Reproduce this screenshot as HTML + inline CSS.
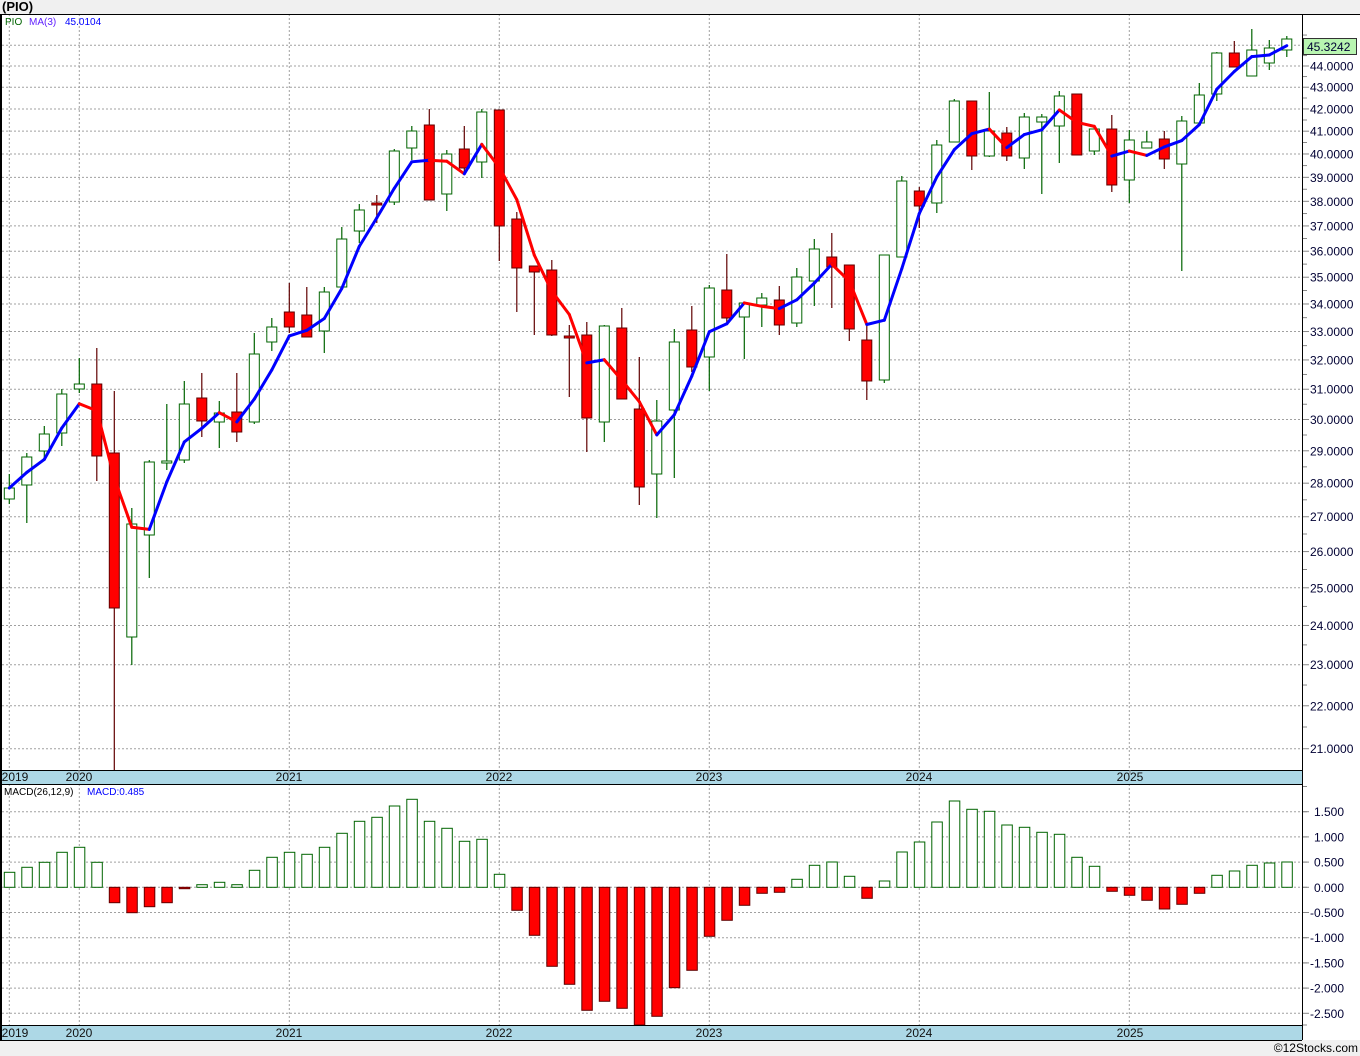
<!DOCTYPE html>
<html><head><meta charset="utf-8">
<style>
html,body{margin:0;padding:0;background:#f0f0f0;}
svg{display:block;font-family:"Liberation Sans",sans-serif;}
</style></head>
<body>
<svg id="c" width="1360" height="1056" xmlns="http://www.w3.org/2000/svg"></svg>
<script>
var C=[[474,488,499,504,1],[453,457,485,523,1],[426,434,451,458,1],[389,394,433,446,1],[358,384,389,393,1],[348,384,456,481,0],[391,453,608,770,0],[508,524,637,665,1],[460,462,535,578,1],[404,461,463,470,1],[381,404,460,463,1],[373,398,421,437,0],[401,413,422,448,1],[373,412,432,442,0],[333,354,422,424,1],[318,327,342,351,1],[283,312,327,333,0],[287,315,337,337,0],[287,292,331,353,1],[227,239,287,287,1],[204,210,231,243,1],[195,203,205,223,0],[149,151,202,205,1],[126,131,148,160,1],[109,125,200,200,0],[150,154,194,211,1],[126,149,168,173,0],[109,112,162,178,1],[110,110,226,261,0],[212,219,268,312,0],[266,266,272,335,0],[260,270,335,336,0],[325,336,338,397,0],[322,335,418,452,0],[325,326,422,442,1],[308,328,399,399,0],[357,409,487,505,0],[400,421,474,518,1],[329,342,410,478,1],[306,330,367,372,0],[285,288,357,391,1],[254,290,318,322,0],[303,303,317,359,1],[293,298,305,327,1],[286,300,325,335,0],[268,277,323,327,1],[239,249,281,306,1],[233,257,267,308,0],[265,265,329,341,0],[326,340,381,400,0],[255,255,380,383,1],[176,181,257,257,1],[187,191,206,228,0],[140,145,203,213,1],[99,101,142,142,1],[101,101,156,170,0],[92,131,156,157,1],[127,133,156,161,0],[113,117,158,169,1],[114,117,122,194,1],[91,96,126,163,1],[94,94,155,155,0],[129,129,151,155,1],[115,129,185,192,0],[130,140,180,203,1],[131,142,148,148,1],[131,139,159,169,0],[116,121,164,271,1],[83,95,123,123,1],[52,53,94,101,1],[41,53,67,67,0],[29,50,76,76,1],[40,48,63,70,1],[36,39,50,57,1]];
var M=[872.3,867.3,862.3,852.3,847.3,862.3,902.7,912.7,906.7,902.7,888.7,884.7,882.3,884.7,870.3,857.3,852.3,854.3,847.3,833.3,821.3,817.3,806,799.3,821.3,828.3,841.3,839.3,874.3,910.3,935.3,966.3,984.3,1010.3,1001.3,1008.3,1025,1016.3,987.7,970.3,936.3,920.3,905.3,893.3,892.3,879.3,865.3,862,876.3,898.3,881,852,842,822,801,809.3,811.3,825,827.3,832.3,834.3,857.3,866.3,891.3,895.3,900.3,909,904.3,893.3,875.3,871,865.3,863,862];
var Z=887.3;
function X(i){return 9.3+17.5*i;}
function py(p){return 66-923*Math.log(p/44);}
function yp(y){return 44*Math.exp((66-y)/923);}
var s='';
s+='<rect x="0" y="14" width="1360" height="1026" fill="#fff"/>';
for(var p=21;p<=45;p++){var y=py(p);s+='<line x1="2" x2="1302" y1="'+y+'" y2="'+y+'" stroke="#a0a0a0" stroke-dasharray="2,2"/>';}
for(var p=20.5;p<=45.5;p+=1){var y=py(p);if(y>16&&y<768)s+='<line x1="1302" x2="1307" y1="'+y+'" y2="'+y+'" stroke="#888"/>';}
for(var p=21;p<=44;p++){var y=py(p);s+='<line x1="1302" x2="1309" y1="'+y+'" y2="'+y+'" stroke="#888"/><text x="1310" y="'+(y+4.5)+'" font-size="12" fill="#000033">'+p+'.0000</text>';}
for(var k=-5;k<=3;k++){var v=k*0.5,y=Z-v*50.4;s+='<line x1="2" x2="1302" y1="'+y+'" y2="'+y+'" stroke="#a0a0a0" stroke-dasharray="2,2"/><line x1="1302" x2="1309" y1="'+y+'" y2="'+y+'" stroke="#888"/><text x="'+(v<0?1310:1314)+'" y="'+(y+4.5)+'" font-size="12" fill="#000033">'+v.toFixed(3)+'</text>';
 var y2=y-25.2;if(y2>786)s+='<line x1="1302" x2="1307" y1="'+y2+'" y2="'+y2+'" stroke="#888"/>';}
s+='<line x1="1302" x2="1307" y1="1025" y2="1025" stroke="#888"/>';
var vx=[9.3,79.3,289.3,499.3,709.3,919.3,1129.3];
vx.forEach(function(x){s+='<line x1="'+x+'" x2="'+x+'" y1="14" y2="770" stroke="#a0a0a0" stroke-dasharray="2,2"/><line x1="'+x+'" x2="'+x+'" y1="784" y2="1025" stroke="#a0a0a0" stroke-dasharray="2,2"/>';});
C.forEach(function(c,i){var x=X(i),up=c[4];var sc=up?'#006400':'#600000';
 s+='<line x1="'+x+'" x2="'+x+'" y1="'+c[0]+'" y2="'+c[3]+'" stroke="'+sc+'" stroke-width="1.2"/>';
 var h=Math.max(c[2]-c[1],1.5);
 s+='<rect x="'+(x-5)+'" y="'+c[1]+'" width="10" height="'+h+'" fill="'+(up?'#fff':'#ff0000')+'" stroke="'+sc+'" stroke-width="1"/>';});
var cl=C.map(function(c){return yp(c[4]?c[1]:c[2]);});
var ma=[];for(var i=0;i<cl.length;i++){var a=Math.max(0,i-2),t=0;for(var j=a;j<=i;j++)t+=cl[j];ma.push(py(t/(i-a+1)));}
for(var i=1;i<ma.length;i++){s+='<line x1="'+X(i-1)+'" y1="'+ma[i-1]+'" x2="'+X(i)+'" y2="'+ma[i]+'" stroke="'+(ma[i]>ma[i-1]?'#ff0000':'#0000ff')+'" stroke-width="3" stroke-linecap="round"/>';}
M.forEach(function(v,i){var x=X(i);if(v<=Z){s+='<rect x="'+(x-5)+'" y="'+v+'" width="10.5" height="'+(Z-v)+'" fill="#fff" stroke="#006400"/>';}else{s+='<rect x="'+(x-5)+'" y="'+Z+'" width="10.5" height="'+(Math.min(v,1025)-Z)+'" fill="#ff0000" stroke="#600000"/>';}});
s+='<rect x="0" y="770" width="1302" height="14" fill="#add8e6"/><rect x="0" y="1025" width="1302" height="15" fill="#add8e6"/>';
s+='<line x1="0" x2="1302" y1="770.5" y2="770.5" stroke="#000"/><line x1="0" x2="1302" y1="784.5" y2="784.5" stroke="#000"/>';
s+='<line x1="0" x2="1302" y1="1025.5" y2="1025.5" stroke="#000"/><line x1="0" x2="1302" y1="1040.5" y2="1040.5" stroke="#000"/>';
s+='<line x1="0" x2="1360" y1="14.5" y2="14.5" stroke="#000"/>';
s+='<line x1="1" x2="1" y1="14" y2="1040" stroke="#000" stroke-width="2"/><line x1="1302.5" x2="1302.5" y1="14" y2="1040" stroke="#000"/>';
var yl=[['2019',15],['2020',79],['2021',289],['2022',499],['2023',709],['2024',919],['2025',1130]];
yl.forEach(function(l){[781,1037].forEach(function(y){s+='<text x="'+l[1]+'" y="'+y+'" font-size="12" fill="#111" text-anchor="middle">'+l[0]+'</text>';});
 if(l[0]!='2019'){s+='<line x1="'+l[1]+'" x2="'+l[1]+'" y1="770" y2="774" stroke="#888"/>';}});
s+='<text x="2" y="11" font-size="13" font-weight="bold" fill="#000">(PIO)</text>';
s+='<text x="5" y="25" font-size="10" fill="#006400">PIO</text><text x="29" y="25" font-size="10" fill="#6020ff">MA(3)</text><text x="65" y="25" font-size="10" fill="#0000ff">45.0104</text>';
s+='<text x="4" y="795" font-size="10" fill="#000">MACD(26,12,9)</text><text x="87" y="795" font-size="10" fill="#0000ff">MACD:0.485</text>';
s+='<rect x="1303.5" y="38.5" width="53" height="16" fill="#b8f5b0" stroke="#333"/><text x="1307" y="51" font-size="12" fill="#000033">45.3242</text>';
s+='<text x="1358" y="1052" font-size="12" fill="#000" text-anchor="end">©12Stocks.com</text>';
document.getElementById('c').innerHTML=s;
</script>
</body></html>
